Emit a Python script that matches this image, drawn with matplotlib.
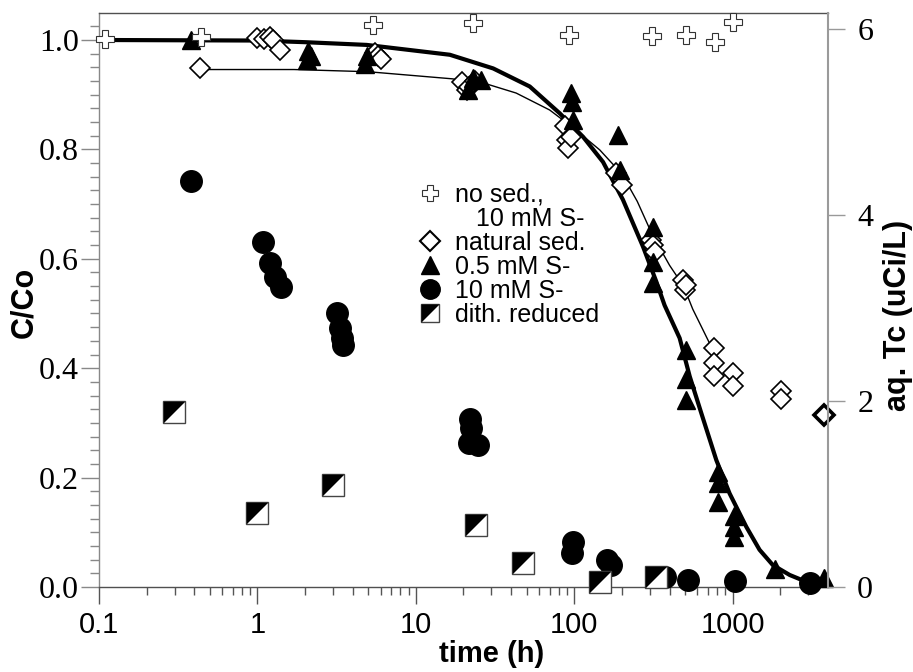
import matplotlib.pyplot as plt
import numpy as np
from matplotlib.lines import Line2D
from matplotlib.ticker import FixedLocator, NullFormatter

# no sed., 10 mM S- (right axis, uCi/L)
nosed_t = [0.109, 0.44, 5.36, 23.0, 92.7, 310, 505, 778, 1005]
nosed_v = [5.89, 5.91, 6.04, 6.06, 5.94, 5.92, 5.93, 5.86, 6.08]

# natural sed.
nat_t = [0.434, 1.0, 1.10, 1.2, 1.25, 1.38, 5.5, 5.8, 6.0, 19.5, 21.0, 21.8, 23.6,
         87, 89.6, 91, 96, 184.5, 199, 307, 315, 323, 486, 498, 511,
         758, 758, 758, 1005, 1005, 2027, 2027]
nat_c = [0.949, 1.004, 1.001, 1.006, 1.0, 0.982, 0.976, 0.970, 0.965, 0.923, 0.909, 0.914, 0.925,
         0.842, 0.817, 0.802, 0.823, 0.756, 0.735, 0.634, 0.625, 0.613, 0.561, 0.543, 0.552,
         0.436, 0.409, 0.386, 0.391, 0.367, 0.359, 0.344]
nat_last_t = [3800]
nat_last_c = [0.314]

# 0.5 mM S-
tri_t = [0.38, 2.09, 2.19, 2.05, 4.89, 4.77, 23.0, 25.8, 21.3, 95.6, 96.5, 98.5,
         189, 194, 315, 315, 315, 505, 505, 505, 807, 807, 807, 1014, 1014, 1014, 1841, 3800]
tri_c = [1.0, 0.979, 0.970, 0.963, 0.970, 0.957, 0.930, 0.927, 0.909, 0.903, 0.887, 0.854,
         0.826, 0.762, 0.659, 0.595, 0.555, 0.433, 0.381, 0.342, 0.211, 0.190, 0.156,
         0.129, 0.110, 0.092, 0.032, 0.016]

# 10 mM S-
circ_t = [0.38, 1.09, 1.2, 1.29, 1.40, 3.19, 3.3, 3.4, 3.47, 21.9, 22.3, 21.6, 24.7,
          98.5, 97, 160, 171, 372, 522, 1031, 3060]
circ_c = [0.742, 0.631, 0.592, 0.567, 0.548, 0.500, 0.473, 0.455, 0.442, 0.308, 0.290, 0.263, 0.260,
          0.083, 0.062, 0.049, 0.040, 0.019, 0.012, 0.011, 0.007]

# dith. reduced
dith_t = [0.297, 1.0, 3.0, 23.9, 47.5, 146, 330]
dith_c = [0.319, 0.135, 0.186, 0.113, 0.043, 0.010, 0.019]

# fitted curves
thick_t = [0.1, 1.0, 2.0, 4.9, 16.4, 30.8, 52.4, 81, 113.7, 152, 203, 272, 330, 372,
           463, 536, 634, 789, 957, 1220, 1479, 1795, 2291, 3061, 3214]
thick_c = [1.0, 0.999, 0.996, 0.991, 0.973, 0.948, 0.915, 0.866, 0.823, 0.777, 0.708, 0.622,
           0.558, 0.515, 0.455, 0.385, 0.318, 0.232, 0.171, 0.110, 0.068, 0.040, 0.022, 0.007, 0.004]
thin_t = [0.43, 1.7, 5.0, 17, 27, 43, 70, 100, 145, 200, 250, 310, 400, 490, 560, 650, 751]
thin_c = [0.946, 0.946, 0.942, 0.929, 0.921, 0.903, 0.872, 0.838, 0.799, 0.755, 0.705,
          0.645, 0.588, 0.550, 0.508, 0.470, 0.433]

xticks = [0.1, 1, 10, 100, 1000]
xticklabels = ["0.1", "1", "10", "100", "1000"]
yticks = [0.0, 0.2, 0.4, 0.6, 0.8, 1.0]
yticklabels = ["0.0", "0.2", "0.4", "0.6", "0.8", "1.0"]
rticks = [0, 2, 4, 6]

half_tri = [(-1, -1), (-1, 1), (1, 1), (-1, -1)]

fig = plt.figure(figsize=(9.13, 6.72), dpi=100)
ax = fig.add_axes([0.1084, 0.1265, 0.7985, 0.8542])

ax.plot(thin_t, thin_c, color="black", lw=1.0, zorder=2)
ax.plot(thick_t, thick_c, color="black", lw=3.0, zorder=2)

mk = dict(linestyle="none", clip_on=False, zorder=4)
ax.plot(nat_t, nat_c, marker="D", ms=10.5, mfc="white", mec="black", mew=1.2, **mk)
ax.plot(nat_last_t, nat_last_c, marker="D", ms=10.5, mfc="white", mec="black", mew=2.6, **mk)
ax.plot(tri_t, tri_c, marker="^", ms=13.5, color="black", **mk)
ax.plot(circ_t, circ_c, marker="o", ms=15.5, color="black", **mk)
ax.plot(dith_t, dith_c, marker="s", ms=15.5, mfc="white", mec="#444444", mew=1.0, **mk)
ax.plot(dith_t, dith_c, marker=half_tri, ms=15.5, color="black", mew=0, **mk)

ax.set_xscale("log")
ax.set_xlim(0.1, 4000)
ax.set_ylim(0, 1.0494)
ax.set_xticks(xticks)
ax.set_xticklabels(xticklabels)
ax.xaxis.set_minor_locator(FixedLocator([m * d for d in [0.1, 1, 10, 100, 1000] for m in range(2, 10)
                                         if m * d < 4000]))
ax.xaxis.set_minor_formatter(NullFormatter())
ax.set_yticks(yticks)
ax.set_yticklabels(yticklabels)
ax.yaxis.set_minor_locator(FixedLocator(np.arange(0, 1.04, 0.025)))

ax.tick_params(axis="x", which="major", direction="out", length=12, width=1, color="#555555",
               labelsize=21, labelfontfamily="Liberation Sans", pad=5)
ax.tick_params(axis="x", which="minor", direction="out", length=6, width=1, color="#555555")
ax.tick_params(axis="y", which="major", direction="out", length=13, width=1, color="#888888",
               labelsize=23, labelfontfamily="Liberation Serif", pad=1.5)
ax.tick_params(axis="y", which="minor", direction="out", length=6.5, width=1, color="#888888")

for s, c in [("left", "#888888"), ("bottom", "#505050"), ("top", "#505050")]:
    ax.spines[s].set_color(c)
    ax.spines[s].set_linewidth(1.0)
ax.spines["right"].set_visible(False)

lab = dict(fontsize=21, fontweight="bold", family="Liberation Sans")
ax.set_xlabel("time (h)", **lab)
ax.xaxis.set_label_coords(0.538, -0.092)
ax.set_ylabel("C/Co", fontsize=22, fontweight="bold", family="Liberation Sans")
ax.yaxis.set_label_coords(-0.082, 0.495)

ax2 = ax.twinx()
ax2.plot(nosed_t, nosed_v, marker="P", ms=12.5, mfc="white", mec="#333333", mew=0.8, **mk)
ax2.set_ylim(0, 6.172)
ax2.set_yticks(rticks)
ax2.tick_params(axis="y", direction="out", length=12, width=1, color="#999999",
                labelsize=23, labelfontfamily="Liberation Serif", pad=9)
for s in ["left", "top", "bottom"]:
    ax2.spines[s].set_visible(False)
ax2.spines["right"].set_color("#9a9a9a")
ax2.spines["right"].set_linewidth(1.5)
ax2.set_ylabel("aq. Tc (uCi/L)", fontsize=22, fontweight="bold", family="Liberation Sans")
ax2.yaxis.set_label_coords(1.075, 0.473)

# legend
h_cross = Line2D([], [], linestyle="none", marker="P", ms=11, mfc="white", mec="#333333", mew=0.8)
h_blank = Line2D([], [], linestyle="none")
h_dia = Line2D([], [], linestyle="none", marker="D", ms=10, mfc="white", mec="black", mew=1.5)
h_tri = Line2D([], [], linestyle="none", marker="^", ms=13, color="black")
h_circ = Line2D([], [], linestyle="none", marker="o", ms=14, color="black")
h_sq = Line2D([], [], linestyle="none", marker="s", ms=13, mfc="white", mec="#444444", mew=1.0)
h_half = Line2D([], [], linestyle="none", marker=half_tri, ms=13, color="black", mew=0)
legend_labels = ["no sed.,", "   10 mM S-", "natural sed.", "0.5 mM S-", "10 mM S-", "dith. reduced"]
leg = ax2.legend([h_cross, h_blank, h_dia, h_tri, h_circ, (h_sq, h_half)], legend_labels,
                 loc="upper left", bbox_to_anchor=(0.437, 0.704), frameon=False,
                 prop={"family": "Liberation Sans", "size": 18},
                 handlelength=1.0, handletextpad=0.5, labelspacing=0.0,
                 borderpad=0, borderaxespad=0)

fig.savefig("out.png", dpi=100)
